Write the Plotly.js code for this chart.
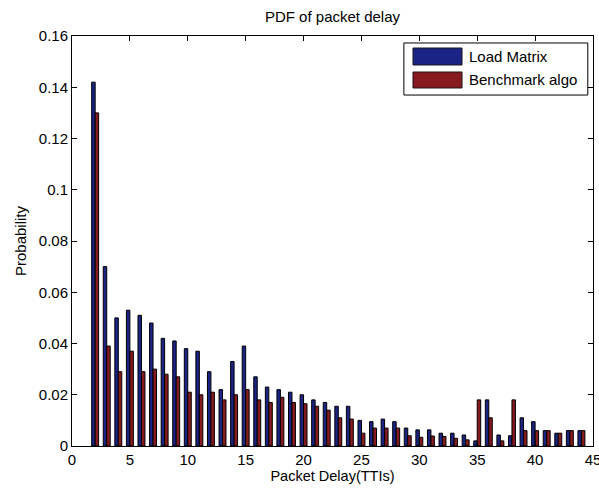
<!DOCTYPE html>
<html>
<head>
<meta charset="utf-8">
<script src="https://cdn.plot.ly/plotly-3.0.1.min.js"></script>
<style>
  html, body { margin: 0; padding: 0; background: #ffffff; }
  #chart { width: 599px; height: 491px; }
</style>
</head>
<body>
<div id="chart"></div>
<script>
// Packet delay in TTIs
const delays = [2, 3, 4, 5, 6, 7, 8, 9, 10, 11, 12, 13, 14, 15, 16, 17, 18, 19, 20, 21, 22, 23,
                24, 25, 26, 27, 28, 29, 30, 31, 32, 33, 34, 35, 36, 37, 38, 39, 40, 41, 42, 43, 44];

// Probability of each delay, Load Matrix scheduler
const loadMatrix = [0.142, 0.070, 0.050, 0.053, 0.051, 0.048, 0.042, 0.041, 0.038, 0.037, 0.029,
                    0.022, 0.033, 0.039, 0.027, 0.023, 0.022, 0.021, 0.020, 0.018, 0.017, 0.0155,
                    0.0155, 0.010, 0.0095, 0.0105, 0.0095, 0.007, 0.0063, 0.0063, 0.005, 0.005,
                    0.0043, 0.002, 0.018, 0.0043, 0.004, 0.011, 0.0095, 0.006, 0.005, 0.006, 0.006];

// Probability of each delay, benchmark algorithm
const benchmark = [0.130, 0.039, 0.029, 0.037, 0.029, 0.030, 0.028, 0.027, 0.021, 0.020, 0.021,
                   0.018, 0.020, 0.022, 0.018, 0.017, 0.019, 0.017, 0.0165, 0.0155, 0.014, 0.011,
                   0.0105, 0.005, 0.007, 0.007, 0.007, 0.004, 0.0034, 0.0039, 0.0037, 0.003,
                   0.0024, 0.018, 0.011, 0.002, 0.018, 0.006, 0.006, 0.006, 0.005, 0.006, 0.006];

const seriesNames = ['Load Matrix', 'Benchmark algo'];
const seriesColors = ['#1b2384', '#861a1f'];

const xTicks = [0, 5, 10, 15, 20, 25, 30, 35, 40, 45];
const yTicks = [0, 0.02, 0.04, 0.06, 0.08, 0.1, 0.12, 0.14, 0.16];
const yTickText = ['0', '0.02', '0.04', '0.06', '0.08', '0.1', '0.12', '0.14', '0.16'];

const font = 'Liberation Sans, Arial, Helvetica, sans-serif';

const traces = [loadMatrix, benchmark].map((vals, i) => ({
  type: 'bar', name: seriesNames[i], x: delays, y: vals, showlegend: false,
  marker: { color: seriesColors[i], line: { color: '#000000', width: 1 } }
}));

const axisCommon = {
  showgrid: false, zeroline: false, showline: true, mirror: 'ticks',
  linecolor: '#000000', linewidth: 1,
  ticks: 'inside', ticklen: 5, tickcolor: '#000000',
  ticklabeloverflow: 'allow',
  tickfont: { family: font, size: 15, color: '#000000' }
};

// Boxed legend with wide colour swatches, placed in the upper right corner
const shapes = [{
  type: 'rect', xref: 'paper', yref: 'paper',
  x0: 0.637, x1: 0.990, y0: 0.856, y1: 0.983,
  line: { color: '#000000', width: 1 }, fillcolor: '#ffffff', layer: 'above'
}];
const annotations = [];
const rowY = [[0.9293, 0.9707], [0.8732, 0.9122]];
seriesNames.forEach((name, i) => {
  shapes.push({
    type: 'rect', xref: 'paper', yref: 'paper',
    x0: 0.6545, x1: 0.7486, y0: rowY[i][0], y1: rowY[i][1],
    line: { color: '#1a1a1a', width: 1 }, fillcolor: seriesColors[i], layer: 'above'
  });
  annotations.push({
    xref: 'paper', yref: 'paper', x: 0.758, y: (rowY[i][0] + rowY[i][1]) / 2,
    xanchor: 'left', yanchor: 'middle', showarrow: false, text: name,
    font: { family: font, size: 15, color: '#000000' }
  });
});

const layout = {
  width: 599, height: 491,
  margin: { l: 72, r: 6, t: 36, b: 45 },
  paper_bgcolor: '#ffffff', plot_bgcolor: '#ffffff',
  barmode: 'group', bargap: 0.4, bargroupgap: 0,
  title: {
    text: 'PDF of packet delay',
    font: { family: font, size: 15, color: '#000000' },
    x: 0.5, xref: 'paper', y: 0.965, yanchor: 'middle'
  },
  xaxis: Object.assign({}, axisCommon, {
    range: [0, 45], tickvals: xTicks, ticktext: xTicks.map(String),
    title: { text: 'Packet Delay(TTIs)', font: { family: font, size: 14.5, color: '#000000' }, standoff: 3 }
  }),
  yaxis: Object.assign({}, axisCommon, {
    range: [0, 0.16], tickvals: yTicks, ticktext: yTickText,
    title: { text: 'Probability', font: { family: font, size: 15, color: '#000000' }, standoff: 8 }
  }),
  shapes: shapes,
  annotations: annotations,
  showlegend: false
};

Plotly.newPlot('chart', traces, layout, { displayModeBar: false, staticPlot: true });
</script>
</body>
</html>
